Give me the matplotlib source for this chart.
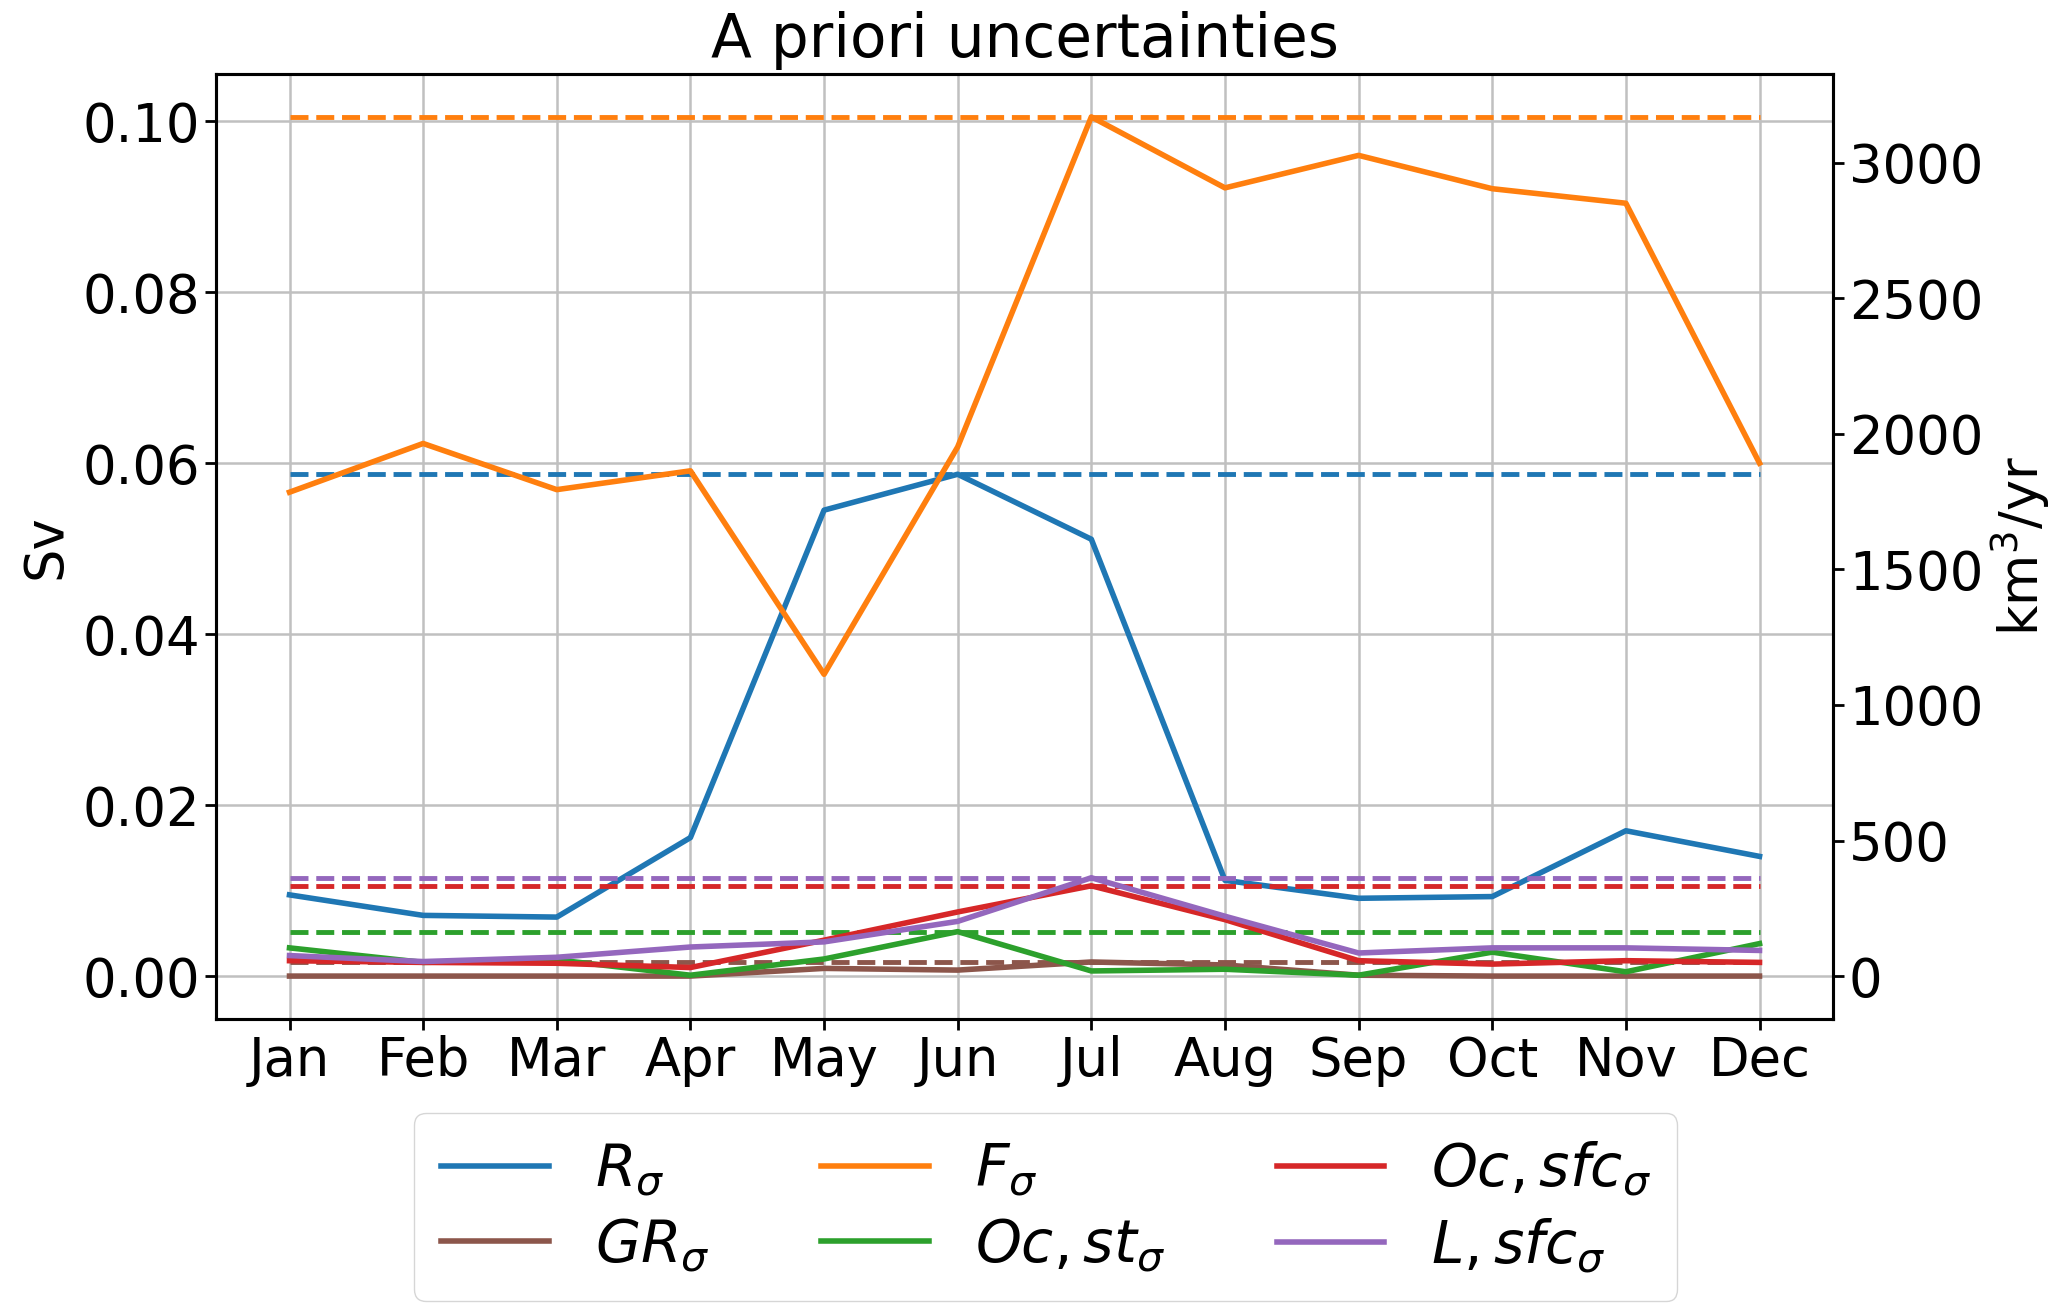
"""A priori uncertainties: monthly sigma per flux term (Sv, right axis in km3/yr)."""
import numpy as np
import matplotlib
matplotlib.use("Agg")
import matplotlib.pyplot as plt

SV_TO_KM3YR = 31536.0   # 1 Sv = 1e6 m3/s -> km3/yr

months = ["Jan", "Feb", "Mar", "Apr", "May", "Jun", "Jul", "Aug", "Sep", "Oct", "Nov", "Dec"]

r_sigma = [0.0095, 0.0071, 0.0069, 0.0162, 0.0545, 0.0587, 0.0511, 0.0112, 0.0091, 0.0093, 0.0170, 0.0140]
gr_sigma = [0.0, 0.0, 0.0, 0.0, 0.0009, 0.0007, 0.00165, 0.0013, 0.0001, 0.0, 0.0, 0.0]
f_sigma = [0.0566, 0.0623, 0.0569, 0.0591, 0.0353, 0.0619, 0.1005, 0.0922, 0.0960, 0.0921, 0.0904, 0.0600]
oc_st_sigma = [0.0033, 0.0016, 0.0019, 0.0001, 0.0020, 0.0052, 0.0006, 0.0008, 0.0001, 0.0028, 0.0005, 0.0038]
oc_sfc_sigma = [0.0018, 0.0016, 0.0015, 0.0010, 0.0042, 0.0075, 0.01056, 0.0066, 0.0018, 0.0014, 0.0018, 0.0016]
l_sfc_sigma = [0.0024, 0.0017, 0.0022, 0.0034, 0.0040, 0.0064, 0.0115, 0.0070, 0.0027, 0.0033, 0.0033, 0.0030]

# (数据, 颜色, 图例) — 图例顺序同原图: ncol=3 按列排
series = [
    (r_sigma, "tab:blue", r"$R_\sigma$"),
    (gr_sigma, "tab:brown", r"$GR_\sigma$"),
    (f_sigma, "tab:orange", r"$F_\sigma$"),
    (oc_st_sigma, "tab:green", r"$Oc,st_\sigma$"),
    (oc_sfc_sigma, "tab:red", r"$Oc,sfc_\sigma$"),
    (l_sfc_sigma, "tab:purple", r"$L,sfc_\sigma$"),
]

FS = 38

fig = plt.figure(figsize=(20.67, 13.11), dpi=100)
ax = fig.add_subplot(111)
fig.subplots_adjust(left=0.1045, right=0.8868, top=0.9436, bottom=0.2227)

x = np.arange(len(months))
for vals, col, lab in series:
    ax.plot(x, vals, color=col, lw=4, label=lab)
    # 虚线 = 该项全年最大 sigma
    ax.plot(x, [max(vals)] * len(x), color=col, lw=3.5, ls="--")

ax.set_xticks(x)
ax.set_xticklabels(months)
ax.grid(True, color="#c0c0c0", lw=1.8)
ax.set_ylabel("Sv", fontsize=FS, labelpad=8)
ax.set_title("A priori uncertainties", fontsize=43, pad=12)
ax.tick_params(labelsize=FS, length=8, width=2)
for s in ax.spines.values():
    s.set_linewidth(2.2)

ax2 = ax.twinx()
lo, hi = ax.get_ylim()
ax2.set_ylim(lo * SV_TO_KM3YR, hi * SV_TO_KM3YR)
ax2.set_ylabel("km$^3$/yr", fontsize=FS)
ax2.tick_params(labelsize=FS, length=8, width=2)
for s in ax2.spines.values():
    s.set_linewidth(2.2)

h, l = ax.get_legend_handles_labels()
fig.legend(h, l, loc="upper center", bbox_to_anchor=(0.506, 0.151), ncol=3,
           fontsize=42, handlelength=1.85, columnspacing=1.9, borderpad=0.45,
           labelspacing=0.3, borderaxespad=0)

fig.savefig("out.png", dpi=100)
